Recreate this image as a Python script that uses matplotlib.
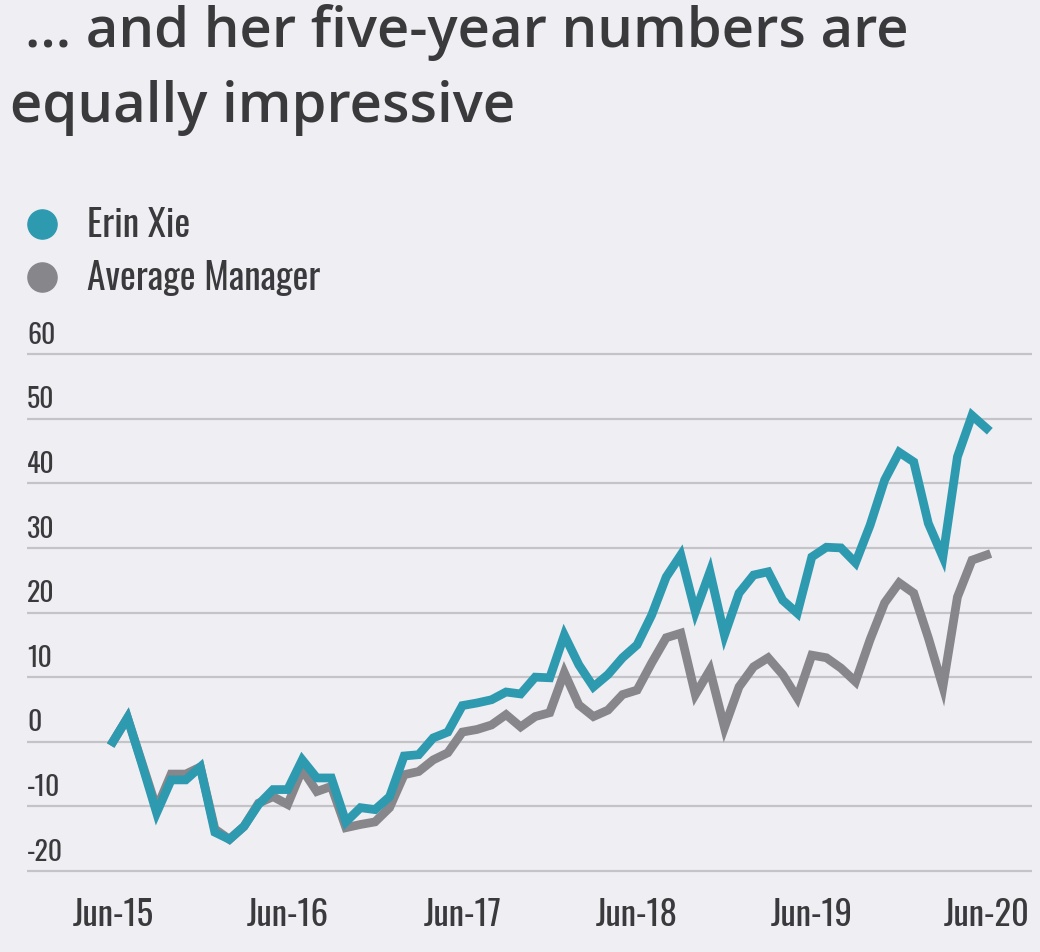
import matplotlib.pyplot as plt
from matplotlib.lines import Line2D

# monthly cumulative returns, Jun-15 .. Jun-20
erin = [0, 3.7, -3.5, -11, -5.9, -5.9, -3.9, -14, -15.1, -13.1,
        -9.7, -7.4, -7.4, -2.8, -5.6, -5.6, -12.4, -10.2, -10.5, -8.5,
        -2.2, -2.0, 0.6, 1.5, 5.6, 6.0, 6.5, 7.7, 7.4, 10,
        9.9, 16.5, 11.9, 8.5, 10.4, 13, 15, 19.6, 25.5, 28.9,
        20.1, 26.3, 16.5, 23, 25.8, 26.3, 21.9, 19.9, 28.6, 30.1,
        30, 27.7, 33.5, 40.5, 44.8, 43.3, 33.8, 28.6, 44.1, 50.5, 48.5]
avg_mgr = [0, 3.7, -3.3, -10.3, -5.0, -5.0, -3.9, -13.5, -15.1, -13.1,
           -9.5, -8.5, -9.7, -4.3, -7.7, -6.9, -13.3, -12.8, -12.4, -10.2,
           -5.1, -4.6, -2.8, -1.7, 1.5, 1.9, 2.6, 4.2, 2.3, 3.9,
           4.5, 10.7, 5.7, 3.9, 4.9, 7.3, 8, 12.2, 16.1, 16.8,
           7.3, 11.1, 2.2, 8.5, 11.6, 13, 10.4, 6.8, 13.4, 13,
           11.4, 9.3, 15.8, 21.5, 24.6, 23, 16.1, 8.5, 22.4, 28.1, 28.9]
months = list(range(len(erin)))
xtick_pos = [0, 12, 24, 36, 48, 60]
xtick_labels = ['Jun-15', 'Jun-16', 'Jun-17', 'Jun-18', 'Jun-19', 'Jun-20']
yticks = [-20, -10, 0, 10, 20, 30, 40, 50, 60]

bg = '#efeef3'
teal = '#2e9ab0'
grey = '#87868b'
txt = '#3a3a3c'
lab_font = ['Oswald', 'Barlow Condensed', 'DejaVu Sans']
title_font = ['Open Sans', 'DejaVu Sans']

fig = plt.figure(figsize=(10.4, 9.52), dpi=100, facecolor=bg)
ax = fig.add_axes([0.026, 0.0715, 0.966, 0.5702], facecolor=bg)

ax.plot(months, avg_mgr, color=grey, lw=6.3, solid_joinstyle='miter', zorder=3)
ax.plot(months, erin, color=teal, lw=6.3, solid_joinstyle='miter', zorder=4)

ax.set_xlim(-5.9, 63.1)
ax.set_ylim(-22, 62)
ax.set_yticks(yticks)
ax.yaxis.grid(True, color='#c4c3c8', lw=1.6)
ax.set_axisbelow(True)
ax.tick_params(axis='y', length=0, labelleft=False)
for v in yticks:
    ax.text(0, v + 1.6, str(v), transform=ax.get_yaxis_transform(),
            ha='left', va='baseline', fontsize=20, color=txt,
            family=lab_font, fontweight='light')

ax.set_xticks(xtick_pos)
ax.set_xticklabels(xtick_labels, fontsize=25, color=txt, family=lab_font,
                   fontweight='light')
ax.tick_params(axis='x', length=0, pad=10)
for s in ax.spines.values():
    s.set_visible(False)

handles = [Line2D([], [], ls='none', marker='o', ms=21, color=teal),
           Line2D([], [], ls='none', marker='o', ms=21, color=grey)]
fig.legend(handles, ['Erin Xie', 'Average Manager'], loc='upper left',
           bbox_to_anchor=(23 / 1040, 1 - 207 / 952), frameon=False,
           prop={'family': lab_font, 'size': 27, 'weight': 'light'}, labelcolor=txt,
           handlelength=1.0, handletextpad=0.7, labelspacing=0.42,
           borderpad=0, borderaxespad=0)

fig.text(25 / 1040, 1 - 47 / 952, '... and her five-year numbers are',
         fontsize=40.5, color=txt, family=title_font, fontweight=600, va='baseline')
fig.text(10 / 1040, 1 - 122 / 952, 'equally impressive',
         fontsize=40.5, color=txt, family=title_font, fontweight=600, va='baseline')

fig.savefig('out.png', dpi=100, facecolor=bg)
